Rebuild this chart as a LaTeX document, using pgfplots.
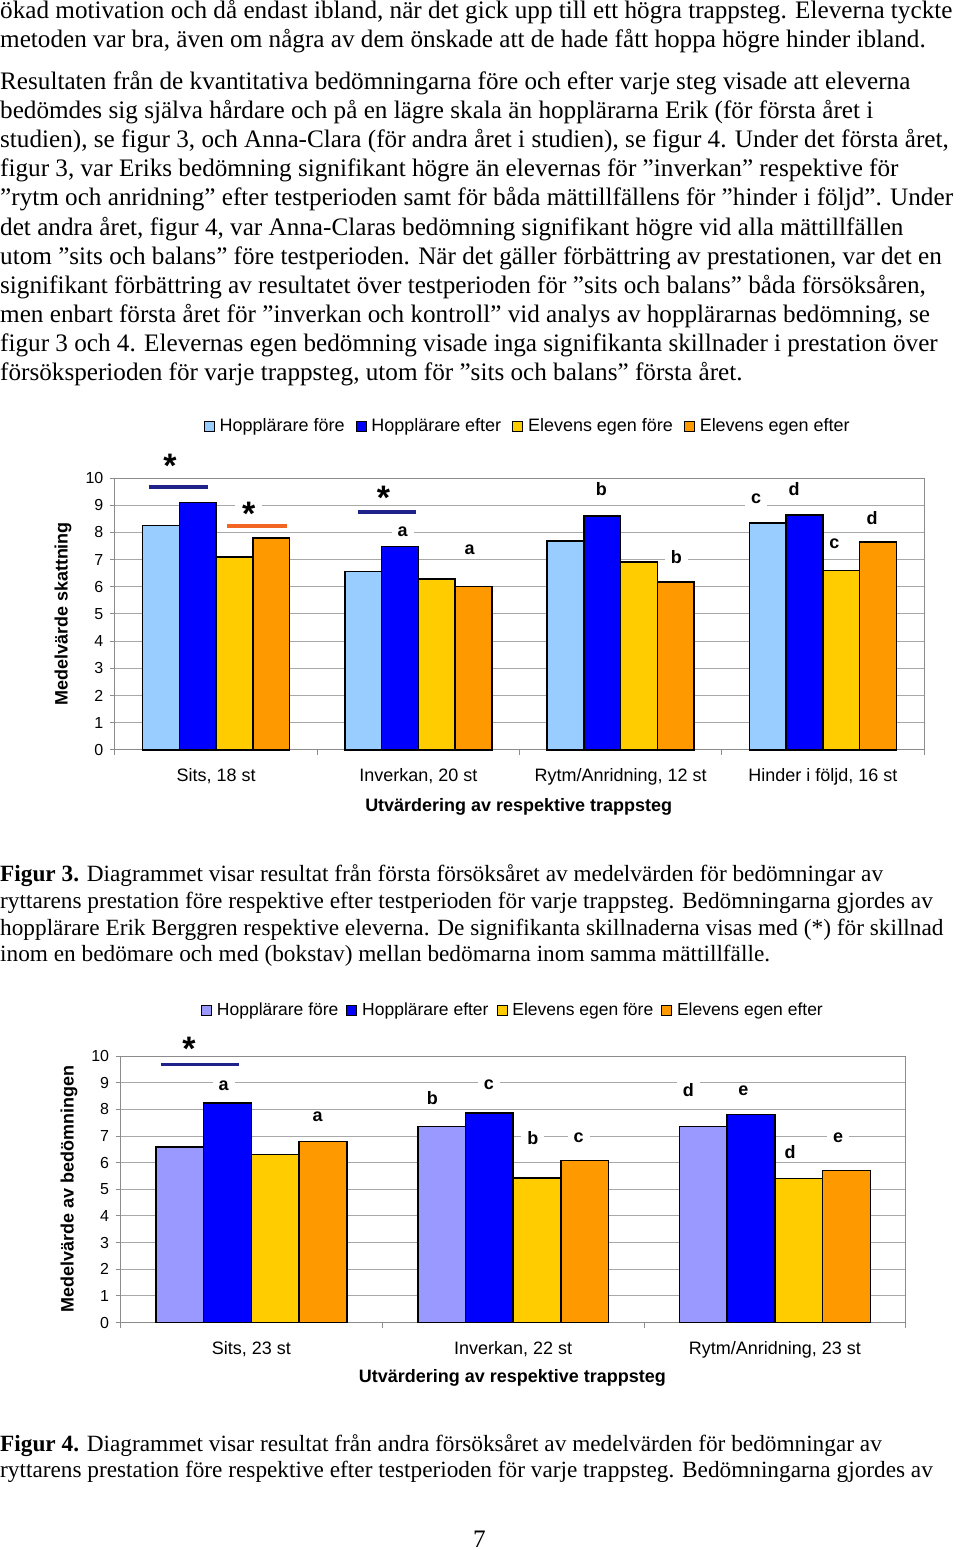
\documentclass[border=0pt]{standalone}
\usepackage{fontspec}
\setmainfont{Liberation Serif}
\newfontfamily\arial{Liberation Sans}
\usepackage{pgfplots}
\pgfplotsset{compat=1.18}

\definecolor{hfA}{HTML}{99CCFF}
\definecolor{hfB}{HTML}{9999FF}
\definecolor{heC}{HTML}{0000FF}
\definecolor{efC}{HTML}{FFCC00}
\definecolor{eeC}{HTML}{FF9900}
\definecolor{navyline}{HTML}{1F2288}
\definecolor{orline}{HTML}{F26522}
\definecolor{axgray}{HTML}{8C8C8C}
\definecolor{gridgray}{HTML}{A8A8A8}

% one line of running text, baseline at y (pixels from top)
\newcommand\tl[2]{\node[anchor=base west,inner sep=0pt] at (0pt,-#1pt) {#2};}
\newcommand\sig{\raisebox{-0.57em}[0.17em][0.17em]{*}}

\tikzset{
  lab/.style={fill=white, inner xsep=6pt, inner ysep=2pt, font=\arial\bfseries\fontsize{18}{20}\selectfont},
  sigstar/.style={fill=white, inner xsep=7pt, inner ysep=3pt, font=\arial\bfseries\fontsize{34}{36}\selectfont},
}

\pgfplotsset{
  trappsteg/.style={
    scale only axis, clip=false,
    ymin=0, ymax=10, ytick={0,...,10},
    ytick pos=left, xtick pos=bottom,
    tick align=outside, major tick length=5pt,
    tick style={axgray, line width=1pt},
    axis line style={axgray, line width=1pt},
    ymajorgrids, grid style={gridgray, line width=1pt},
    xticklabels={},
    ticklabel style={font=\arial\fontsize{16}{18}\selectfont},
    extra x tick style={major tick length=0pt,
      tick label style={yshift=-15pt, font=\arial\fontsize{18}{20}\selectfont}},
    yticklabel style={xshift=-3pt},
    /pgf/number format/assume math mode=true,
    label style={font=\arial\bfseries\fontsize{18}{20}\selectfont},
    legend columns=4,
    legend style={draw=none, fill=none, font=\arial\fontsize{18}{20}\selectfont,
      nodes={inner sep=0pt},
      /tikz/every odd column/.append style={column sep=5pt},
      /tikz/every even column/.append style={column sep=11pt}},
    legend cell align=left,
  },
  mybar/.style={ybar, fill=#1, draw=black, line width=1.5pt,
    legend image code/.code={\draw[fill=#1, draw=black, line width=0.8pt] (0pt,-5pt) rectangle (10pt,5pt);}},
}

\begin{document}
\begin{tikzpicture}
\fill[white] (0pt,0pt) rectangle (960pt,-1550pt);

\begin{scope}[font=\fontsize{25.2}{29}\selectfont]
\tl{16.7}{ökad motivation och då endast ibland, när det gick upp till ett högra trappsteg. Eleverna tyckte}
\tl{45.7}{metoden var bra, även om några av dem önskade att de hade fått hoppa högre hinder ibland.}
\tl{87.7}{Resultaten från de kvantitativa bedömningarna före och efter varje steg visade att eleverna}
\tl{116.9}{bedömdes sig själva hårdare och på en lägre skala än hopplärarna Erik (för första året i}
\tl{146.1}{studien), se figur 3, och Anna-Clara (för andra året i studien), se figur 4. Under det första året,}
\tl{175.3}{figur 3, var Eriks bedömning signifikant högre än elevernas för ”inverkan” respektive för}
\tl{204.5}{”rytm och anridning” efter testperioden samt för båda mättillfällens för ”hinder i följd”. Under}
\tl{233.7}{det andra året, figur 4, var Anna-Claras bedömning signifikant högre vid alla mättillfällen}
\tl{262.9}{utom ”sits och balans” före testperioden. När det gäller förbättring av prestationen, var det en}
\tl{292.1}{signifikant förbättring av resultatet över testperioden för ”sits och balans” båda försöksåren,}
\tl{321.3}{men enbart första året för ”inverkan och kontroll” vid analys av hopplärarnas bedömning, se}
\tl{350.5}{figur 3 och 4. Elevernas egen bedömning visade inga signifikanta skillnader i prestation över}
\tl{379.7}{försöksperioden för varje trappsteg, utom för ”sits och balans” första året.}
\node[anchor=base,inner sep=0pt] at (480pt,-1547pt) {7};
\end{scope}

\begin{scope}[font=\fontsize{23.3}{27}\selectfont]
\tl{881.2}{\textbf{Figur 3.} Diagrammet visar resultat från första försöksåret av medelvärden för bedömningar av}
\tl{907.9}{ryttarens prestation före respektive efter testperioden för varje trappsteg. Bedömningarna gjordes av}
\tl{934.6}{hopplärare Erik Berggren respektive eleverna. De signifikanta skillnaderna visas med (*) för skillnad}
\tl{961.3}{inom en bedömare och med (bokstav) mellan bedömarna inom samma mättillfälle.}
\tl{1451.2}{\textbf{Figur 4.} Diagrammet visar resultat från andra försöksåret av medelvärden för bedömningar av}
\tl{1477.9}{ryttarens prestation före respektive efter testperioden för varje trappsteg. Bedömningarna gjordes av}
\end{scope}

% Figur 3
\begin{axis}[trappsteg,
  at={(115pt,-749pt)}, anchor=south west,
  width=810pt, height=272pt,
  xmin=0, xmax=4, xtick={0,1,2,3,4},
  bar width=0.1817,
  extra x ticks={0.5,1.5,2.5,3.5},
  extra x tick labels={{Sits, 18 st},{Inverkan, 20 st},{Rytm/Anridning, 12 st},{Hinder i följd, 16 st}},
  ylabel={Medelvärde skattning},
  ylabel style={at={(axis description cs:-0.064,0.5)}, anchor=center},
  xlabel={Utvärdering av respektive trappsteg},
  xlabel style={at={(axis description cs:0.499,-0.2096)}, anchor=center},
  legend style={at={(axis description cs:0.509,1.191)}, anchor=center},
]
\addplot[mybar=hfA, bar shift=-0.2725] coordinates {(0.5,8.26) (1.5,6.56) (2.5,7.68) (3.5,8.35)};
\addlegendentry{Hopplärare före}
\addplot[mybar=heC, bar shift=-0.0908] coordinates {(0.5,9.11) (1.5,7.49) (2.5,8.61) (3.5,8.64)};
\addlegendentry{Hopplärare efter}
\addplot[mybar=efC, bar shift=0.0908] coordinates {(0.5,7.09) (1.5,6.28) (2.5,6.92) (3.5,6.60)};
\addlegendentry{Elevens egen före}
\addplot[mybar=eeC, bar shift=0.2725] coordinates {(0.5,7.80) (1.5,6.01) (2.5,6.17) (3.5,7.64)};
\addlegendentry{Elevens egen efter}
\node[sigstar] at (axis cs:0.272,10.75) {\sig};
\draw[navyline, line width=4pt] (axis cs:0.168,9.67) -- (axis cs:0.459,9.67);
\node[sigstar] at (axis cs:0.662,8.98) {\sig};
\draw[orline, line width=4pt] (axis cs:0.553,8.235) -- (axis cs:0.849,8.235);
\node[sigstar] at (axis cs:1.328,9.57) {\sig};
\draw[navyline, line width=4pt] (axis cs:1.20,8.75) -- (axis cs:1.486,8.75);
\node[lab] at (axis cs:1.422,8.01) {a};
\node[lab] at (axis cs:1.753,7.35) {a};
\node[lab] at (axis cs:2.405,9.60) {b};
\node[lab] at (axis cs:2.775,7.10) {b};
\node[lab] at (axis cs:3.170,9.23) {c};
\node[lab] at (axis cs:3.358,9.60) {d};
\node[lab] at (axis cs:3.743,8.53) {d};
\node[lab, inner xsep=2pt] at (axis cs:3.556,7.57) {c};
\end{axis}

% Figur 4
\begin{axis}[trappsteg,
  at={(120.7pt,-1322.3pt)}, anchor=south west,
  width=786pt, height=266.7pt,
  xmin=0, xmax=3, xtick={0,1,2,3},
  bar width=0.1823,
  extra x ticks={0.5,1.5,2.5},
  extra x tick labels={{Sits, 23 st},{Inverkan, 22 st},{Rytm/Anridning, 23 st}},
  ylabel={Medelvärde av bedömningen},
  ylabel style={at={(axis description cs:-0.0658,0.5)}, anchor=center},
  xlabel={Utvärdering av respektive trappsteg},
  xlabel style={at={(axis description cs:0.499,-0.209)}, anchor=center},
  legend style={at={(axis description cs:0.4985,1.173)}, anchor=center,
    font=\arial\fontsize{17.5}{20}\selectfont,
    /tikz/every even column/.append style={column sep=8pt}},
]
\addplot[mybar=hfB, bar shift=-0.2734] coordinates {(0.5,6.58) (1.5,7.36) (2.5,7.36)};
\addlegendentry{Hopplärare före}
\addplot[mybar=heC, bar shift=-0.0911] coordinates {(0.5,8.24) (1.5,7.86) (2.5,7.80)};
\addlegendentry{Hopplärare efter}
\addplot[mybar=efC, bar shift=0.0911] coordinates {(0.5,6.31) (1.5,5.43) (2.5,5.40)};
\addlegendentry{Elevens egen före}
\addplot[mybar=eeC, bar shift=0.2734] coordinates {(0.5,6.80) (1.5,6.09) (2.5,5.71)};
\addlegendentry{Elevens egen efter}
\node[sigstar] at (axis cs:0.261,10.57) {\sig};
\draw[navyline, line width=4pt] (axis cs:0.153,9.685) -- (axis cs:0.453,9.685);
\node[lab] at (axis cs:0.394,8.90) {a};
\node[lab] at (axis cs:0.753,7.73) {a};
\node[lab] at (axis cs:1.191,8.44) {b};
\node[lab] at (axis cs:1.407,8.92) {c};
\node[lab] at (axis cs:1.575,6.92) {b};
\node[lab] at (axis cs:1.750,6.92) {c};
\node[lab] at (axis cs:2.169,8.71) {d};
\node[lab] at (axis cs:2.379,8.71) {e};
\node[lab] at (axis cs:2.558,6.385) {d};
\node[lab] at (axis cs:2.741,6.92) {e};
\end{axis}
\end{tikzpicture}
\end{document}
